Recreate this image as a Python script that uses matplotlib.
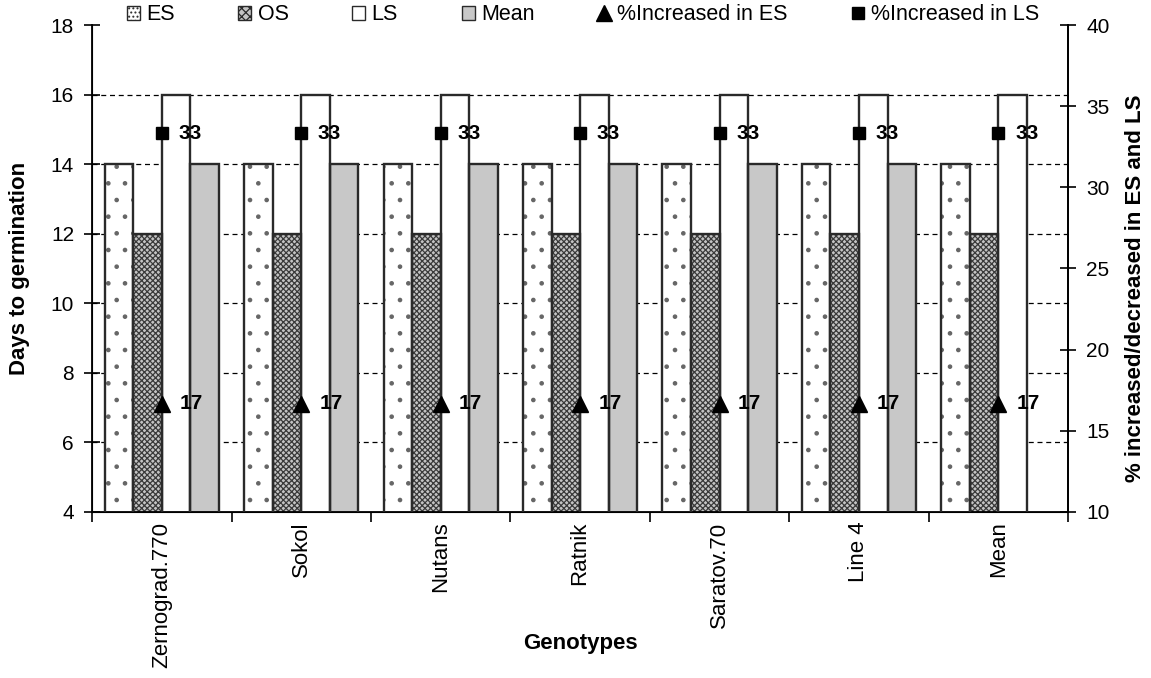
import numpy as np
import matplotlib
matplotlib.use("Agg")
from matplotlib import pyplot as plt
from matplotlib.patches import Patch
from matplotlib.lines import Line2D

matplotlib.rcParams.update({
    'font.family': 'Liberation Sans',
    'font.size': 15,
    'hatch.linewidth': 0.9,
})

genotypes = ['Zernograd.770', 'Sokol', 'Nutans', 'Ratnik', 'Saratov.70', 'Line 4', 'Mean']
es = [14, 14, 14, 14, 14, 14, 14]
os_ = [12, 12, 12, 12, 12, 12, 12]
ls = [16, 16, 16, 16, 16, 16, 16]
mean = [14, 14, 14, 14, 14, 14, np.nan]
inc_es = [16.67, 16.67, 16.67, 16.67, 16.67, 16.67, 16.67]
inc_ls = [33.33, 33.33, 33.33, 33.33, 33.33, 33.33, 33.33]

fig = plt.figure(figsize=(11.51, 6.78), dpi=100)
ax = fig.add_axes([0.080, 0.245, 0.848, 0.718])

x = np.arange(len(genotypes))
w = 0.205
edge = '#2a2a2a'

# hatched fills first, outlines on top
ax.bar(x - 1.5 * w, es, w, color='white', hatch='.', edgecolor='#666666', linewidth=0, zorder=2)
ax.bar(x - 0.5 * w, os_, w, color='#c4c4c4', hatch='xxxxxx', edgecolor='#3a3a3a', linewidth=0, zorder=2)
ax.bar(x + 0.5 * w, ls, w, color='white', linewidth=0, zorder=2)
ax.bar(x + 1.5 * w, mean, w, color='#c8c8c8', linewidth=0, zorder=2)
for off, vals in [(-1.5, es), (-0.5, os_), (0.5, ls), (1.5, mean)]:
    ax.bar(x + off * w, vals, w, fill=False, edgecolor=edge, linewidth=1.7, zorder=3)

ax.set_ylim(4, 18)
ax.set_xlim(-0.5, len(genotypes) - 0.5)
ax.set_yticks(range(4, 19, 2))
for yv in range(6, 17, 2):
    ax.axhline(yv, color='black', linestyle=(0, (4, 3)), linewidth=0.9, zorder=1)

ax.set_xticks(x)
ax.set_xticklabels(genotypes, rotation=90, fontsize=16)
ax.set_xticks(np.arange(len(genotypes) + 1) - 0.5, minor=True)
ax.tick_params(axis='x', which='major', length=0, pad=7)
ax.tick_params(axis='x', which='minor', length=7, direction='out', width=1.2)
ax.tick_params(axis='y', direction='inout', length=12, width=1.2, pad=7)
for s in ['left', 'bottom', 'right']:
    ax.spines[s].set_linewidth(1.3)
ax.spines['top'].set_visible(False)

ax.set_ylabel('Days to germination', fontweight='bold', fontsize=16)
ax.yaxis.set_label_coords(-0.064, 0.5)
ax.set_xlabel('Genotypes', fontweight='bold', fontsize=16)
ax.xaxis.set_label_coords(0.5, -0.248)

ax2 = ax.twinx()
ax2.set_ylim(10, 40)
ax2.set_yticks(range(10, 41, 5))
ax2.tick_params(axis='y', direction='inout', length=12, width=1.2, pad=7)
ax2.spines['top'].set_visible(False)
ax2.spines['right'].set_linewidth(1.3)
ax2.set_ylabel('% increased/decreased in ES and LS', fontweight='bold', fontsize=16)
ax2.yaxis.set_label_coords(1.058, 0.46)

ax2.plot(x, inc_es, linestyle='none', marker='^', color='black', markersize=11, zorder=5)
ax2.plot(x, inc_ls, linestyle='none', marker='s', color='black', markersize=9, zorder=5)
for xi, a, b in zip(x, inc_es, inc_ls):
    ax2.annotate(f'{a:.0f}', (xi, a), xytext=(13, 0), textcoords='offset points',
                 va='center', ha='left', fontweight='bold', fontsize=15, zorder=6)
    ax2.annotate(f'{b:.0f}', (xi, b), xytext=(12, 0), textcoords='offset points',
                 va='center', ha='left', fontweight='bold', fontsize=15, zorder=6)

handles = [
    Patch(facecolor='white', edgecolor=edge, hatch='....', label='ES'),
    Patch(facecolor='#c4c4c4', edgecolor=edge, hatch='xxxx', label='OS'),
    Patch(facecolor='white', edgecolor=edge, label='LS'),
    Patch(facecolor='#c8c8c8', edgecolor=edge, label='Mean'),
    Line2D([], [], linestyle='none', marker='^', color='black', markersize=11, label='%Increased in ES'),
    Line2D([], [], linestyle='none', marker='s', color='black', markersize=9, label='%Increased in LS'),
]
fig.legend(handles=handles, loc='center', bbox_to_anchor=(0.5065, 0.978), ncol=6, frameon=False,
           handlelength=0.6, handleheight=0.6, handletextpad=0.3, columnspacing=2.95, fontsize=15.5)

fig.savefig('out.png', dpi=100)
